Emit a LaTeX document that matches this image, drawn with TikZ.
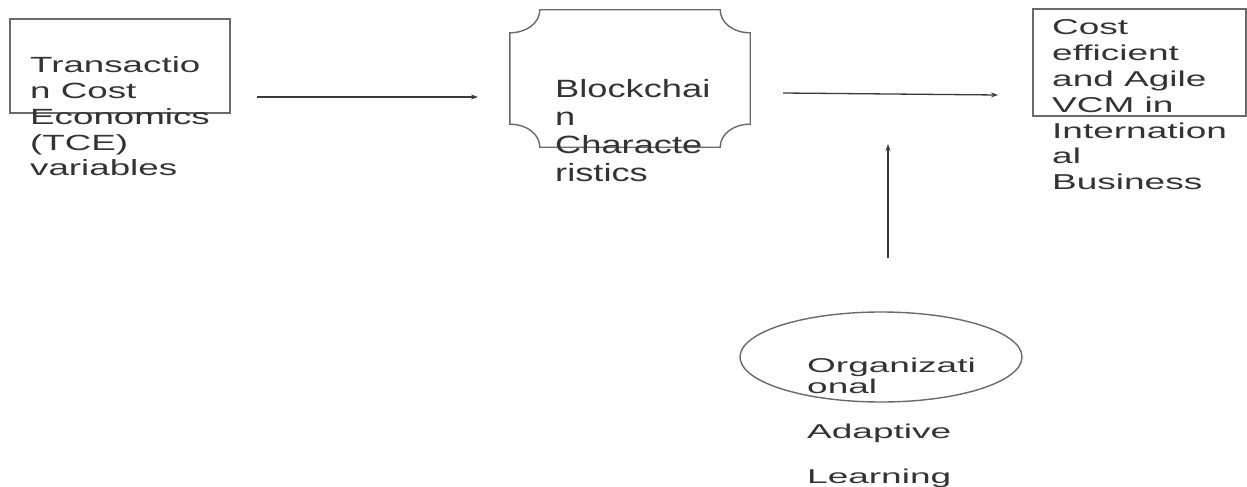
\documentclass[tikz,border=0pt]{standalone}
\usepackage{graphicx}
\usepackage{fontspec}
\setmainfont{Liberation Sans}
\usetikzlibrary{arrows.meta,shapes.geometric}
\definecolor{textgray}{HTML}{333333}
\definecolor{boxgray}{HTML}{6A6A6A}
\definecolor{arrowgray}{HTML}{3A3A3A}
\newcommand{\blocktext}[4]{\fontsize{#1}{#2}\selectfont\scalebox{#3}[1]{\begin{tabular}[t]{@{}l@{}}#4\end{tabular}}}
\tikzset{
  boxshape/.style={draw=boxgray, line width=1.4pt, inner sep=0pt},
  txt/.style={anchor=base west, inner sep=0pt, text=textgray},
  arr/.style={draw=arrowgray, line width=1.3pt, -{Stealth[length=7pt,width=5pt]}},
}
\begin{document}
\begin{tikzpicture}[x=1pt,y=-1pt]
\useasboundingbox (0,0) rectangle (1247,487);
% shapes
\node[boxshape, rectangle, minimum width=220pt, minimum height=94pt] (tce) at (120,66) {};
\node[boxshape, rectangle, minimum width=213pt, minimum height=107pt] (vcm) at (1139.5,62.5) {};
\node[inner sep=0pt, minimum width=240pt, minimum height=137pt] (bc) at (630,78.5) {};
\draw[draw=boxgray, line width=1.4pt]
  ([xshift=30pt]bc.north west) -- ([xshift=-30pt]bc.north east)
  .. controls ([xshift=-30pt,yshift=-13pt]bc.north east) and ([xshift=-17pt,yshift=-23pt]bc.north east) .. ([yshift=-23pt]bc.north east)
  -- ([yshift=23pt]bc.south east)
  .. controls ([xshift=-17pt,yshift=23pt]bc.south east) and ([xshift=-30pt,yshift=13pt]bc.south east) .. ([xshift=-30pt]bc.south east)
  -- ([xshift=30pt]bc.south west)
  .. controls ([xshift=30pt,yshift=13pt]bc.south west) and ([xshift=17pt,yshift=23pt]bc.south west) .. ([yshift=23pt]bc.south west)
  -- ([yshift=-23pt]bc.north west)
  .. controls ([xshift=17pt,yshift=-23pt]bc.north west) and ([xshift=30pt,yshift=-13pt]bc.north west) .. cycle;
\node[boxshape, ellipse, minimum width=282pt, minimum height=90pt] (oal) at (881,357) {};
% texts
\node[txt] (tcetext) at (30,72) {\blocktext{22}{26}{1.67}{Transactio\\n Cost\\Economics\\(TCE)\\variables}};
\node[txt] (bctext) at (555,97) {\blocktext{25}{28.3}{1.45}{Blockchai\\n\\Characte\\ristics}};
\node[txt] (vcmtext) at (1052,35) {\blocktext{21.5}{25.8}{1.72}{Cost\\efficient\\and Agile\\VCM in\\Internation\\al\\Business}};
\node[txt] (oaltext) at (807,372) {\blocktext{20}{21}{1.85}{Organizati\\onal\\[24pt]Adaptive\\[24pt]Learning}};
% connectors
\coordinate (a1s) at (257,97);
\coordinate (a1e) at (478,97);
\coordinate (a2s) at (783,93);
\coordinate (a2e) at (998,95);
\coordinate (a3s) at (888,258);
\coordinate (a3e) at (888,144);
\draw[arr] (a1s) -- (a1e);
\draw[arr] (a2s) -- (a2e);
\draw[arr] (a3s) -- (a3e);
\end{tikzpicture}
\end{document}
